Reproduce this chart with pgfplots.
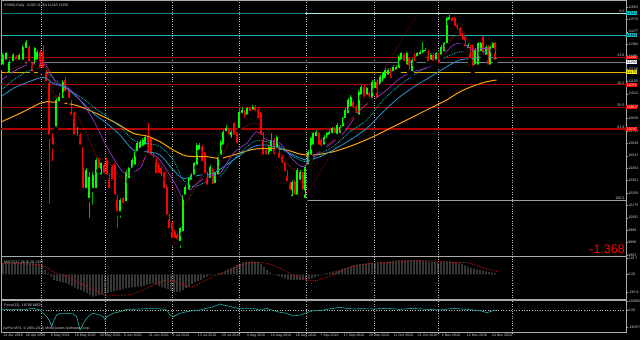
\documentclass[border=0pt]{standalone}
\usepackage{fontspec}
\setmainfont{Liberation Sans}
\usepackage{pgfplots}
\usepackage{pgfplotstable}
\pgfplotsset{compat=1.18}
\definecolor{upc}{RGB}{0,255,0}
\definecolor{upw}{RGB}{0,185,0}
\definecolor{dnc}{RGB}{255,0,0}
\definecolor{fib}{RGB}{175,0,0}
\definecolor{tealL}{RGB}{0,128,128}
\definecolor{tealW}{RGB}{180,232,232}
\definecolor{cyanL}{RGB}{32,178,190}
\definecolor{slateL}{RGB}{112,128,144}
\definecolor{goldL}{RGB}{225,170,0}
\definecolor{maO}{RGB}{255,165,0}
\definecolor{maB}{RGB}{40,150,210}
\definecolor{maC}{RGB}{0,200,210}
\definecolor{maP}{RGB}{153,50,204}
\definecolor{maR}{RGB}{200,20,20}
\definecolor{sepg}{RGB}{190,190,190}
\definecolor{axg}{RGB}{170,170,170}
\definecolor{txtg}{RGB}{205,205,205}
\definecolor{forceC}{RGB}{32,178,170}
\newcommand{\fs}{\fontsize{3.6}{4}\selectfont}

\pgfplotstableread{
x t b h l
2.7 11302 11215 11320 11202
6 11315 11252 11327 11240
9.3 11252 11152 11265 11145
13.3 11302 11240 11315 11227
19.3 11302 11252 11315 11240
22.7 11365 11252 11377 11245
26 11402 11340 11415 11327
34.7 11352 11215 11365 11202
37.3 11327 11252 11340 11240
56 10965 10752 10977 10740
59.3 10990 10940 11015 10927
62.7 11102 10965 11115 10952
77.3 10702 10685 10765 10665
86 10440 10290 10452 10277
89.3 10390 10215 10427 10065
92.7 10402 10290 10427 10165
96 10515 10290 10527 10277
101.3 10490 10390 10502 10377
120 10215 10115 10227 10065
126 10427 10190 10440 10177
128.7 10452 10365 10465 10352
132 10515 10440 10527 10427
134.7 10577 10465 10590 10452
137.3 10640 10565 10652 10552
140 10652 10590 10665 10577
142.7 10665 10602 10677 10590
145.3 10690 10615 10702 10602
180 10002 9890 10015 9840
182.7 10240 9965 10252 9952
185.3 10315 10240 10327 10227
188.7 10377 10277 10390 10265
191.3 10402 10352 10415 10340
194 10490 10390 10502 10377
196.7 10627 10465 10640 10452
199.3 10627 10577 10640 10565
210 10465 10365 10477 10352
215.3 10415 10327 10427 10315
218 10540 10390 10552 10377
220.7 10652 10540 10665 10527
223.3 10727 10615 10740 10602
226 10752 10715 10777 10702
231.3 10727 10665 10740 10652
239.3 10877 10740 10902 10727
242 10890 10852 10915 10840
247.3 10902 10840 10915 10827
252.7 10915 10877 10927 10865
268.7 10615 10540 10627 10527
271.3 10665 10565 10715 10552
276.7 10690 10590 10702 10577
292 10352 10227 10365 10215
297.3 10440 10240 10452 10227
300 10427 10352 10440 10340
305.3 10465 10215 10477 10202
308 10577 10465 10590 10452
310.7 10677 10540 10690 10527
313.3 10715 10615 10727 10602
316 10727 10677 10740 10665
324 10690 10615 10702 10602
326.7 10715 10665 10727 10652
329.3 10727 10690 10740 10677
332 10752 10702 10765 10690
337.3 10777 10690 10790 10677
340 10765 10702 10777 10690
342.7 10827 10752 10840 10740
345.3 10890 10815 10902 10802
348 10965 10852 10977 10840
350.7 10990 10902 11002 10890
358.7 11027 10840 11040 10827
361.3 11065 10990 11077 10977
366.7 11052 10990 11065 10977
372 11102 10965 11115 10952
374.7 11102 11040 11115 11027
380 11140 11065 11152 11052
382.7 11165 11090 11177 11077
385.3 11190 11115 11202 11102
388 11190 11140 11202 11127
393.3 11215 11165 11227 11152
396 11215 11177 11227 11165
398.7 11290 11190 11302 11177
401.3 11315 11252 11327 11240
406.7 11315 11215 11327 11202
412 11265 11165 11277 11152
417.3 11315 11277 11327 11265
420 11327 11290 11340 11277
422.7 11340 11302 11402 11290
425.3 11340 11315 11352 11302
430.7 11302 11252 11315 11240
436 11315 11252 11327 11240
441.3 11365 11290 11377 11277
444 11390 11315 11402 11302
446.7 11577 11377 11590 11365
449.3 11590 11552 11615 11540
468 11377 11340 11390 11327
475.3 11340 11215 11352 11202
478 11390 11215 11402 11202
480.7 11390 11315 11402 11302
486 11365 11290 11377 11277
490 11365 11215 11377 11202
492.7 11390 11340 11402 11327
}\upbars

\pgfplotstableread{
x t b h l
16 11290 11252 11302 11240
29.3 11365 11240 11377 11227
32 11240 11165 11252 11152
40 11327 11190 11340 11177
43.3 11327 11190 11377 11177
46 11177 11090 11190 11077
49.3 11090 10690 11102 10165
52.7 10690 10615 10715 10490
65.3 11115 11015 11140 11002
68.7 11040 10965 11052 10952
71.3 10877 10840 10965 10827
74 10865 10690 10877 10677
80 10702 10615 10715 10602
82.7 10452 10290 10615 10277
98.7 10515 10440 10527 10427
104 10477 10402 10490 10390
106.7 10515 10390 10527 10377
109.3 10402 10290 10415 10277
112 10465 10352 10477 10340
114.7 10477 10240 10490 10227
117.3 10240 10115 10252 9990
123.3 10227 10177 10240 10165
148 10690 10552 10790 10540
150.7 10677 10540 10690 10527
153.3 10552 10515 10565 10502
156 10515 10402 10527 10390
158.7 10477 10402 10490 10390
161.3 10452 10377 10465 10365
164 10415 10290 10427 10277
166.7 10315 10090 10327 10077
169.3 10102 9990 10115 9977
172 10040 9915 10052 9902
174.7 9977 9915 9990 9877
177.3 9952 9902 9965 9890
202 10615 10490 10627 10477
204.7 10565 10402 10577 10390
207.3 10415 10315 10427 10302
212.7 10440 10315 10452 10302
228.7 10740 10690 10752 10677
234 10790 10690 10802 10677
236.7 10715 10627 10727 10615
244.7 10877 10815 10890 10802
250 10902 10865 10915 10852
255.3 10915 10865 10927 10852
258 10890 10815 10902 10802
260.7 10865 10690 10877 10677
263.3 10715 10540 10727 10527
266 10590 10540 10602 10527
274 10665 10540 10677 10527
279.3 10615 10515 10627 10502
282 10540 10477 10552 10465
284.7 10490 10415 10502 10402
287.3 10427 10340 10440 10327
290 10340 10277 10352 10265
294.7 10352 10240 10365 10227
302.7 10415 10277 10427 10265
318.7 10715 10615 10727 10602
321.3 10665 10602 10677 10590
334.7 10752 10702 10765 10690
353.3 10952 10890 10965 10877
356 10915 10852 10927 10840
364 11065 10965 11077 10952
369.3 11015 10965 11027 10952
377.3 11102 10965 11115 10952
390.7 11190 11115 11202 11102
404 11302 11240 11315 11227
409.3 11277 11177 11290 11165
414.7 11302 11240 11315 11227
428 11327 11240 11340 11227
433.3 11302 11240 11315 11227
438.7 11302 11227 11315 11215
452 11577 11540 11590 11527
454.7 11577 11502 11590 11490
457.3 11527 11477 11540 11465
460 11502 11427 11515 11415
462.7 11452 11402 11465 11390
465.3 11440 11352 11452 11340
470 11365 11265 11377 11252
472.7 11365 11202 11377 11177
483.3 11440 11290 11445 11277
488 11365 11215 11377 11202
495.3 11390 11252 11402 11240
}\dnbars

\pgfplotsset{panel/.style={
  scale only axis, width=624.5pt, xmin=1.5, xmax=626, clip=false,
  axis line style={draw=axg, line width=1pt},
  xtick={41,105.5,172.5,239.5,306.5,374.5,438,512}, xticklabel=\empty,
  xmajorgrids, major x grid style={draw=sepg, dotted, line width=0.6pt},
  xtick style={draw=none},
  ytick pos=right, yticklabel pos=right, tick align=outside, major tick length=1.5pt,
  ytick style={draw=axg, line width=0.4pt},
  yticklabel style={font=\fs, text=txtg, inner sep=0.6pt},
  /pgf/number format/assume math mode=true,
  /pgf/number format/1000 sep={},
}}

\begin{document}
\begin{tikzpicture}
\fill[black] (0,0) rectangle (640pt,340pt);

% ---------------- main price panel ----------------
\begin{axis}[panel, at={(1.5pt,83pt)}, anchor=south west, height=256pt,
  ymin=9787.5, ymax=11707.5,
  ytick={11663,11570,11477,11384,11291,11198,11105,11012,10919,10826,10733,10640,10547,10454,10361,10268,10175,10082,9989,9896,9803},
  yticklabels={11663,11570,11477,11384,11291,11198,11105,11012,10919,10826,10733,10640,10547,10454,10361,10268,10175,10082,9989,9896,9803}]
% horizontal levels
\addplot[tealL, line width=0.8pt] coordinates {(1.5,11615) (305,11615)};
\addplot[tealW, line width=0.8pt] coordinates {(305,11615) (626,11615)};
\addplot[cyanL, line width=0.7pt] coordinates {(1.5,11452) (626,11452)};
\addplot[fib, line width=0.6pt] coordinates {(1.5,11284) (626,11284)};
\addplot[slateL, line width=0.7pt] coordinates {(1.5,11250) (626,11250)};
\addplot[goldL, line width=0.8pt] coordinates {(1.5,11175) (626,11175)};
\addplot[fib, line width=1.2pt] coordinates {(1.5,11079) (626,11079)};
\addplot[fib, line width=0.6pt] coordinates {(1.5,10913) (626,10913)};
\addplot[fib, line width=1.2pt] coordinates {(1.5,10747) (626,10747)};
\addplot[gray!75, line width=1.2pt] coordinates {(305,10211) (626,10211)};
\addplot[fib, densely dotted, line width=0.6pt] coordinates {(305,10240) (418.3,11615)};
% candles: wicks then bodies
\addplot[only marks, mark=none, error bars/.cd, y dir=plus, y explicit, error mark=none,
  error bar style={line width=0.5pt, color=upw}]
  table[x=x, y=l, y error expr=\thisrow{h}-\thisrow{l}] {\upbars};
\addplot[only marks, mark=none, error bars/.cd, y dir=plus, y explicit, error mark=none,
  error bar style={line width=0.5pt, color=dnc}]
  table[x=x, y=l, y error expr=\thisrow{h}-\thisrow{l}] {\dnbars};
\addplot[only marks, mark=none, error bars/.cd, y dir=plus, y explicit, error mark=none,
  error bar style={line width=1.8pt, color=upc}]
  table[x=x, y=b, y error expr=\thisrow{t}-\thisrow{b}] {\upbars};
\addplot[only marks, mark=none, error bars/.cd, y dir=plus, y explicit, error mark=none,
  error bar style={line width=1.8pt, color=dnc}]
  table[x=x, y=b, y error expr=\thisrow{t}-\thisrow{b}] {\dnbars};
% moving averages
\addplot[maO, line width=1pt, smooth] coordinates {(1.5,10802) (20,10865) (40,10940) (46.7,10952) (66.7,10940) (80,10915) (100,10852) (116.7,10790) (133.3,10715) (146.7,10695) (160,10652) (173.3,10590) (186.7,10545) (206.7,10540) (220,10527) (233.3,10552) (253.3,10595) (273.3,10602) (286.7,10590) (300,10560) (313.3,10552) (333.3,10577) (353.3,10627) (373.3,10690) (393.3,10765) (413.3,10840) (433.3,10915) (446.7,10965) (460,11027) (473.3,11070) (486.7,11102) (496.7,11115)};
\addplot[maB, line width=0.8pt, smooth] coordinates {(1.5,10990) (13.3,11052) (26.7,11095) (43.3,11135) (53.3,11090) (66.7,11052) (80,10965) (93.3,10865) (106.7,10790) (120,10702) (133.3,10590) (146.7,10577) (160,10552) (173.3,10440) (183.3,10377) (200,10402) (213.3,10415) (233.3,10515) (253.3,10615) (266.7,10627) (280,10602) (293.3,10552) (306.7,10515) (320,10540) (333.3,10590) (350,10665) (366.7,10752) (383.3,10877) (400,10990) (416.7,11077) (433.3,11152) (446.7,11215) (460,11265) (473.3,11277) (486.7,11285) (496.7,11277)};
\addplot[maC, densely dotted, line width=0.8pt, smooth] coordinates {(1.5,11040) (13.3,11115) (26.7,11177) (40,11202) (50,11152) (63.3,11065) (80,10990) (93.3,10915) (106.7,10840) (120,10765) (133.3,10665) (146.7,10640) (160,10615) (173.3,10515) (183.3,10365) (193.3,10315) (206.7,10352) (220,10390) (233.3,10515) (253.3,10652) (266.7,10652) (280,10615) (293.3,10540) (306.7,10502) (320,10565) (333.3,10615) (350,10727) (366.7,10815) (383.3,10965) (400,11077) (416.7,11165) (433.3,11240) (446.7,11290) (460,11327) (473.3,11327) (486.7,11327) (496.7,11320)};
\addplot[maP, line width=0.7pt, smooth] coordinates {(1.5,11115) (13.3,11177) (26.7,11227) (40,11240) (46.7,11215) (56.7,11090) (66.7,11065) (80,10965) (93.3,10815) (106.7,10615) (120,10452) (126.7,10415) (140,10452) (146.7,10552) (156.7,10540) (166.7,10440) (176.7,10315) (183.3,10227) (193.3,10315) (206.7,10390) (220,10415) (233.3,10565) (246.7,10640) (256.7,10727) (266.7,10665) (280,10640) (293.3,10515) (303.3,10465) (313.3,10540) (326.7,10615) (343.3,10715) (360,10890) (373.3,10965) (386.7,11040) (400,11127) (413.3,11177) (430,11215) (443.3,11302) (453.3,11377) (463.3,11390) (473.3,11340) (483.3,11352) (496.7,11340)};
\addplot[maR, densely dotted, line width=0.7pt, smooth] coordinates {(1.5,11152) (13.3,11202) (26.7,11240) (36.7,11265) (46.7,11227) (53.3,11015) (66.7,10965) (83.3,10765) (96.7,10540) (106.7,10515) (120,10390) (126.7,10390) (140,10490) (150,10565) (160,10490) (173.3,10315) (181.7,10165) (190,10240) (203.3,10415) (216.7,10440) (226.7,10615) (240,10740) (256.7,10790) (266.7,10640) (280,10565) (290,10465) (300,10415) (306.7,10440) (320,10590) (333.3,10665) (350,10815) (366.7,10940) (383.3,11090) (400,11215) (416.7,11277) (433.3,11290) (446.7,11365) (453.3,11440) (463.3,11477) (470,11390) (480,11315) (490,11340) (496.7,11340)};
% level texts and price tags
\node[font=\fs, text=txtg, anchor=south east, inner sep=0.4pt] at (axis cs:625,11615) {0.0};
\node[font=\fs, text=txtg, anchor=south east, inner sep=0.4pt] at (axis cs:625,11284) {23.6};
\node[font=\fs, text=txtg, anchor=south east, inner sep=0.4pt] at (axis cs:625,11079) {38.2};
\node[font=\fs, text=txtg, anchor=south east, inner sep=0.4pt] at (axis cs:625,10913) {50.0};
\node[font=\fs, text=txtg, anchor=south east, inner sep=0.4pt] at (axis cs:625,10747) {61.8};
\node[font=\fs, text=txtg, anchor=south east, inner sep=0.4pt] at (axis cs:625,10211) {100.0};
\node[fill=maC, text=black, font=\fs, anchor=west, inner sep=0.6pt] at (axis cs:626,11615) {11615};
\node[fill=cyanL, text=black, font=\fs, anchor=west, inner sep=0.6pt] at (axis cs:626,11452) {11452};
\node[fill=dnc, text=white, font=\fs, anchor=west, inner sep=0.6pt] at (axis cs:626,11284) {11284};
\node[fill=white, text=black, font=\fs, anchor=west, inner sep=0.6pt] at (axis cs:626,11250) {11250};
\node[fill=yellow, text=black, font=\fs, anchor=west, inner sep=0.6pt] at (axis cs:626,11175) {11175};
\node[fill=dnc, text=white, font=\fs, anchor=west, inner sep=0.6pt] at (axis cs:626,11079) {11079};
\node[fill=dnc, text=white, font=\fs, anchor=west, inner sep=0.6pt] at (axis cs:626,10913) {10913};
\node[fill=dnc, text=white, font=\fs, anchor=west, inner sep=0.6pt] at (axis cs:626,10747) {10747};
\node[font=\fontsize{12.5}{13}\selectfont, text=dnc, anchor=south east, inner sep=0pt] at (axis cs:625,9812) {-1.368};
\node[font=\fs, text=txtg, anchor=north west, inner sep=0.5pt] at (axis description cs:0.003,0.993) {\#YM00,Daily\ \ 11262 11264 11248 11250};
\end{axis}

% ---------------- MACD panel ----------------
\begin{axis}[panel, at={(1.5pt,40pt)}, anchor=south west, height=43pt,
  ymin=-347, ymax=233.6, ytick={-245.8,0,216.7}, yticklabels={-245.8,0.00,216.7}]
\addplot[ybar, bar width=0.9pt, fill=gray!80, draw=none] coordinates {(3,150) (6,152) (9,150) (12,148) (15,150) (18,152) (21,155) (24,158) (27,158) (30,155) (33,150) (36,148) (39,145) (42,130) (45,60) (48,20) (51,-30) (54,-80) (57,-90) (60,-100) (63,-110) (66,-120) (69,-140) (72,-160) (75,-180) (78,-200) (81,-215) (84,-235) (87,-255) (90,-280) (93,-300) (96,-295) (99,-280) (102,-270) (105,-258) (108,-250) (111,-240) (114,-232) (117,-220) (120,-210) (123,-200) (126,-190) (129,-180) (132,-175) (135,-172) (138,-168) (141,-165) (144,-155) (147,-140) (150,-130) (153,-122) (156,-140) (159,-160) (162,-175) (165,-190) (168,-205) (171,-225) (174,-240) (177,-242) (180,-235) (183,-215) (186,-190) (189,-165) (192,-130) (195,-110) (198,-90) (201,-75) (204,-50) (207,-30) (210,-15) (213,-5) (216,5) (219,12) (222,25) (225,45) (228,65) (231,85) (234,105) (237,125) (240,145) (243,160) (246,168) (249,172) (252,172) (255,170) (258,165) (261,140) (264,100) (267,60) (270,25) (273,-5) (276,-15) (279,-25) (282,-40) (285,-60) (288,-72) (291,-78) (294,-80) (297,-80) (300,-78) (303,-76) (306,-72) (309,-65) (312,-55) (315,-40) (318,-20) (321,-5) (324,8) (327,15) (330,25) (333,35) (336,45) (339,55) (342,70) (345,85) (348,100) (351,115) (354,125) (357,132) (360,138) (363,142) (366,148) (369,150) (372,155) (375,158) (378,162) (381,165) (384,168) (387,170) (390,175) (393,180) (396,185) (399,190) (402,192) (405,193) (408,194) (411,194) (414,193) (417,192) (420,190) (423,185) (426,178) (429,172) (432,170) (435,168) (438,168) (441,170) (444,172) (447,175) (450,175) (453,172) (456,165) (459,155) (462,140) (465,120) (468,100) (471,88) (474,78) (477,68) (480,58) (483,50) (486,40) (489,32) (492,22) (495,15)};
\addplot[maR, densely dotted, line width=0.8pt, smooth] coordinates {(2,148) (40,126) (53,36) (67,-31) (80,-121) (93,-211) (100,-256) (107,-279) (127,-279) (140,-234) (153,-144) (167,-76) (180,-121) (190,-175) (200,-121) (213,-31) (227,36) (240,126) (253,157) (267,148) (280,81) (293,-9) (307,-76) (317,-85) (320,-67) (333,-9) (347,81) (360,126) (373,148) (387,157) (413,180) (433,180) (453,157) (467,157) (480,103) (497,36)};
\node[font=\fs, text=txtg, anchor=north west, inner sep=0.5pt] at (axis description cs:0.003,0.93) {MACD(12,26,9) 20.7433};
\end{axis}

% ---------------- Force panel ----------------
\begin{axis}[panel, at={(1.5pt,7pt)}, anchor=south west, height=32pt,
  ymin=-324300, ymax=126900, scaled y ticks=false,
  ytick={-240579,0,120965}, yticklabels={-240579,0.00,120965},
  extra x ticks={2.5,25,50,74,99,123,148,172,197,221,246,270,295,319.5,343,368,393,417,441,466,491},
  extra x tick labels={14 Apr 2016,26 Apr 2016,6 May 2016,18 May 2016,30 May 2016,9 Jun 2016,21 Jun 2016,1 Jul 2016,13 Jul 2016,25 Jul 2016,4 Aug 2016,16 Aug 2016,26 Aug 2016,7 Sep 2016,17 Sep 2016,29 Sep 2016,11 Oct 2016,21 Oct 2016,2 Nov 2016,12 Nov 2016,24 Nov 2016},
  extra x tick style={grid=none, major tick length=0pt,
    xticklabel style={font=\fs, text=txtg, anchor=north west, inner sep=0.6pt}}]
\addplot[sepg, dotted, line width=0.6pt] coordinates {(1.5,0) (626,0)};
\addplot[forceC, line width=0.6pt] coordinates {(1.5,9400) (13.3,9400) (26.7,9400) (33.3,23500) (40,0) (43.3,-47000) (46.7,-94000) (50,-164500) (51.7,-235000) (53.3,-164500) (56.7,-70500) (60,-47000) (66.7,-47000) (73.3,-56400) (76.7,-94000) (80,-282000) (83.3,-188000) (86.7,-117500) (90,-70500) (93.3,-47000) (100,-70500) (103.3,-94000) (105,-141000) (106.7,-94000) (110,-70500) (113.3,-47000) (120,-23500) (126.7,9400) (133.3,9400) (146.7,18800) (160,18800) (166.7,0) (170,-70500) (173.3,-94000) (180,-47000) (186.7,-23500) (193.3,-9400) (200,0) (206.7,23500) (213.3,47000) (220,84600) (223.3,70500) (233.3,37600) (240,18800) (253.3,18800) (260,0) (266.7,23500) (276.7,-23500) (286.7,-47000) (293.3,-84600) (300,-70500) (306.7,-37600) (313.3,-9400) (320,-9400) (326.7,9400) (333.3,23500) (340,37600) (346.7,23500) (353.3,14100) (360,18800) (373.3,14100) (386.7,23500) (400,9400) (413.3,23500) (426.7,9400) (440,0) (453.3,23500) (466.7,9400) (480,-9400) (486.7,-37600) (493.3,-9400) (496.7,0)};
\node[font=\fs, text=txtg, anchor=north west, inner sep=0.5pt] at (axis description cs:0.003,0.93) {Force(13) -18796.8852};
\node[font=\fs, text=txtg, anchor=south west, inner sep=0.5pt] at (axis description cs:0.002,0.05) {AvPro MT4, © 2001-2016 MetaQuotes Software Corp.};
\end{axis}
\pgfresetboundingbox
\useasboundingbox (0,0) rectangle (640pt,340pt);
\end{tikzpicture}
\end{document}
